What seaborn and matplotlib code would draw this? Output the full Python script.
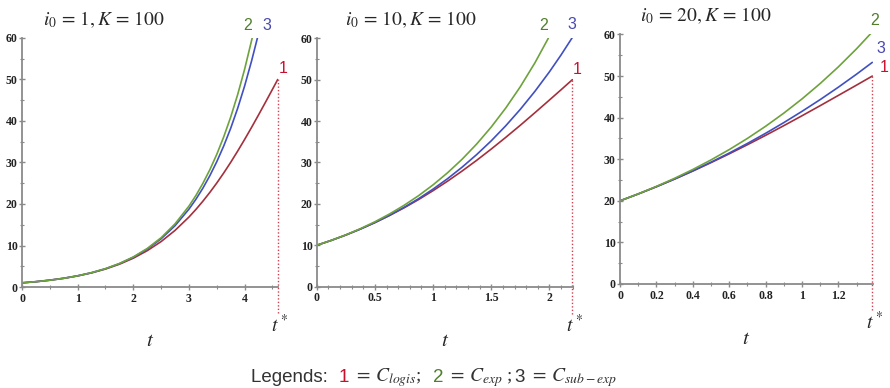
import numpy as np
import pandas as pd
import matplotlib
matplotlib.use("Agg")
import matplotlib.pyplot as plt
import seaborn as sns
from matplotlib.ticker import MultipleLocator, FuncFormatter
from matplotlib.offsetbox import TextArea, HPacker, AnchoredOffsetbox

# ---------------- data ----------------
i0_values = [1, 10, 20]
K_value = 100
t_star = [4.595, 2.197, 1.386]
x_max = [4.6, 2.2, 1.39]

# panel 1 : i0 = 1
p1_t_logis = [0, 0.25, 0.5, 0.75, 1, 1.25, 1.5, 1.75, 2, 2.25, 2.5, 2.75, 3, 3.125, 3.25, 3.375,
              3.5, 3.625, 3.75, 3.875, 4, 4.125, 4.25, 4.375, 4.5, 4.595]
p1_logis = [1.00, 1.28, 1.64, 2.09, 2.67, 3.40, 4.33, 5.49, 6.94, 8.75, 10.95, 13.64, 16.86, 18.69,
            20.67, 22.79, 25.06, 27.48, 30.04, 32.74, 35.55, 38.46, 41.46, 44.52, 47.62, 50.00]
p1_t_exp = [0, 0.25, 0.5, 0.75, 1, 1.25, 1.5, 1.75, 2, 2.25, 2.5, 2.75, 3, 3.125, 3.25, 3.375,
            3.5, 3.625, 3.75, 3.875, 4, 4.136]
p1_exp = [1.00, 1.28, 1.64, 2.10, 2.69, 3.45, 4.42, 5.66, 7.24, 9.28, 11.88, 15.22, 19.49, 22.06,
          24.97, 28.25, 31.97, 36.19, 40.95, 46.36, 52.46, 60.00]
p1_t_sub = [0, 0.25, 0.5, 0.75, 1, 1.25, 1.5, 1.75, 2, 2.25, 2.5, 2.75, 3, 3.125, 3.25, 3.375,
            3.5, 3.625, 3.75, 3.875, 4, 4.125, 4.23]
p1_sub = [1.00, 1.28, 1.65, 2.11, 2.70, 3.45, 4.40, 5.62, 7.17, 9.13, 11.62, 14.77, 18.76, 21.14,
          23.81, 26.82, 30.20, 33.99, 38.25, 43.05, 48.43, 54.46, 60.00]

# panel 2 : i0 = 10
p2_t_logis = [0, 0.125, 0.25, 0.375, 0.5, 0.625, 0.75, 0.875, 1, 1.125, 1.25, 1.375, 1.5, 1.625,
              1.75, 1.875, 2, 2.1, 2.197]
p2_logis = [10.00, 11.18, 12.48, 13.92, 15.48, 17.19, 19.04, 21.04, 23.20, 25.50, 27.95, 30.53,
            33.25, 36.08, 39.00, 42.02, 45.09, 47.57, 50.00]
p2_t_exp = [0, 0.125, 0.25, 0.375, 0.5, 0.625, 0.75, 0.875, 1, 1.125, 1.25, 1.375, 1.5, 1.625,
            1.75, 1.875, 1.99]
p2_exp = [10.00, 11.19, 12.52, 14.01, 15.68, 17.55, 19.64, 21.98, 24.60, 27.53, 30.80, 34.47,
          38.57, 43.17, 48.31, 54.06, 60.00]
p2_t_sub = [0, 0.125, 0.25, 0.375, 0.5, 0.625, 0.75, 0.875, 1, 1.125, 1.25, 1.375, 1.5, 1.625,
            1.75, 1.875, 2, 2.1, 2.197]
p2_sub = [10.00, 11.18, 12.48, 13.91, 15.49, 17.23, 19.15, 21.25, 23.57, 26.10, 28.88, 31.92,
          35.24, 38.88, 42.85, 47.18, 51.90, 55.98, 60.20]

# panel 3 : i0 = 20
p3_t = [0, 0.1, 0.2, 0.3, 0.4, 0.5, 0.6, 0.7, 0.8, 0.9, 1.0, 1.1, 1.2, 1.3, 1.386]
p3_logis = [20.00, 21.65, 23.39, 25.23, 27.16, 29.19, 31.30, 33.49, 35.75, 38.08, 40.46, 42.89,
            45.36, 47.84, 50.00]
p3_exp = [20.00, 21.67, 23.47, 25.42, 27.54, 29.84, 32.32, 35.01, 37.93, 41.09, 44.51, 48.22,
          52.23, 56.58, 60.62]
p3_sub = [20.00, 21.65, 23.40, 25.26, 27.22, 29.30, 31.49, 33.80, 36.24, 38.81, 41.52, 44.35,
          47.34, 50.47, 53.29]

x_major = [1, 0.5, 0.2]
x_minor = [0.5, 0.1, 0.1]

panels = [
    dict(logis=(p1_t_logis, p1_logis), exp=(p1_t_exp, p1_exp), sub=(p1_t_sub, p1_sub)),
    dict(logis=(p2_t_logis, p2_logis), exp=(p2_t_exp, p2_exp), sub=(p2_t_sub, p2_sub)),
    dict(logis=(p3_t, p3_logis), exp=(p3_t, p3_exp), sub=(p3_t, p3_sub)),
]

# ---------------- styling ----------------
sns.set_theme(style="white")
plt.rcParams["font.family"] = ["Liberation Serif", "DejaVu Serif"]
plt.rcParams["mathtext.fontset"] = "stix"

line_colors = {"logis": "#a3303c", "exp": "#6ea23c", "sub": "#4050c0"}
label_colors = {"logis": "#c8102e", "exp": "#4f7f2a", "sub": "#4848b0"}
label_text = {"logis": "1", "exp": "2", "sub": "3"}

# label offsets in pixels (dx, dy up) per panel
label_offsets = [
    {"exp": (-5, 5), "sub": (9, 5), "logis": (5, 3)},
    {"exp": (-5, 5), "sub": (0, 5), "logis": (5, 3)},
    {"exp": (2, 4), "sub": (9, 6), "logis": (12, 1)},
]

fig = plt.figure(figsize=(8.9, 3.88), dpi=100)
positions = [
    [22 / 890, 101 / 388, 256 / 890, 249 / 388],
    [316.7 / 890, 101.3 / 388, 256 / 890, 248.4 / 388],
    [620 / 890, 104 / 388, 253 / 890, 249.5 / 388],
]
title_x = [0.082, 0.11, 0.078]

axes = []
for k, pdata in enumerate(panels):
    ax = fig.add_axes(positions[k])
    axes.append(ax)
    rows = []
    for model in ["logis", "sub", "exp"]:
        tt, cc = pdata[model]
        for a, b in zip(tt, cc):
            rows.append({"t": a, "C": b, "model": model})
    df = pd.DataFrame(rows)
    sns.lineplot(data=df, x="t", y="C", hue="model", palette=line_colors,
                 hue_order=["logis", "sub", "exp"], estimator=None, sort=False,
                 legend=False, linewidth=1.2, ax=ax)

    ax.set_xlim(0, x_max[k])
    ax.set_ylim(0, 60)
    ax.set_xlabel("")
    ax.set_ylabel("")
    for s in ["top", "right"]:
        ax.spines[s].set_visible(False)
    for s in ["left", "bottom"]:
        ax.spines[s].set_color("#8a8a8a")
        ax.spines[s].set_linewidth(1.3)
    ax.set_facecolor("white")
    ax.yaxis.set_major_locator(MultipleLocator(10))
    ax.yaxis.set_minor_locator(MultipleLocator(5))
    ax.xaxis.set_major_locator(MultipleLocator(x_major[k]))
    ax.xaxis.set_minor_locator(MultipleLocator(x_minor[k]))
    ax.xaxis.set_major_formatter(FuncFormatter(lambda v, p: "%g" % round(v, 3)))
    ax.tick_params(axis="both", which="major", direction="inout", length=4, width=1,
                   color="#8a8a8a", labelsize=8.5, pad=1, labelcolor="#222222")
    ax.tick_params(axis="both", which="minor", direction="inout", length=2.5, width=0.8,
                   color="#8a8a8a")
    ax.tick_params(axis="x", which="major", pad=2)
    ax.tick_params(left=True, bottom=True, which="both")
    for lab in ax.get_xticklabels() + ax.get_yticklabels():
        lab.set_fontweight("bold")

    # dotted t* marker
    ts = t_star[k]
    ax.plot([ts, ts], [50, -6.8], linestyle=(0, (1, 1.5)), color="#d04050",
            linewidth=1.0, clip_on=False)
    ax.annotate(r"$t^*$", xy=(ts, 0), xytext=(2 * 0.72, -38 * 0.72),
                textcoords="offset points", ha="center", va="center",
                fontsize=14, annotation_clip=False)

    # curve labels
    for model in ["exp", "sub", "logis"]:
        tt, cc = pdata[model]
        dx, dy = label_offsets[k][model]
        ax.annotate(label_text[model], xy=(tt[-1], cc[-1]),
                    xytext=(dx * 0.72, dy * 0.72), textcoords="offset points",
                    ha="center", va="bottom", fontsize=11.5,
                    color=label_colors[model], family="Liberation Sans",
                    annotation_clip=False)

    # title
    ax.text(title_x[k], 1.075, r"$i_0\,=\,%d, K\,=\,%d$" % (i0_values[k], K_value),
            transform=ax.transAxes, ha="left", va="center", fontsize=14)
    # x label
    ax.text(0.5, -55 / 249, r"$t$", transform=ax.transAxes, ha="center",
            va="center", fontsize=15)

# ---------------- bottom legend line ----------------
fs = 13.5
sans = dict(family="Liberation Sans", size=fs, color="#333333")
parts = [
    TextArea("Legends:  ", textprops=sans),
    TextArea("1", textprops=dict(family="Liberation Sans", size=fs, color="#c8102e")),
    TextArea(r" $=\, C_{logis}$;   ", textprops=dict(size=fs + 0.5, color="#333333")),
    TextArea("2", textprops=dict(family="Liberation Sans", size=fs, color="#4f7f2a")),
    TextArea(r" $=\, C_{exp}$ ; ", textprops=dict(size=fs + 0.5, color="#333333")),
    TextArea("3", textprops=dict(family="Liberation Sans", size=fs, color="#333333")),
    TextArea(r" $=\, C_{sub-exp}$", textprops=dict(size=fs + 0.5, color="#333333")),
]
box = HPacker(children=parts, align="baseline", pad=0, sep=0)
anch = AnchoredOffsetbox(loc="center", child=box, pad=0, frameon=False,
                         bbox_to_anchor=(434 / 890, 10 / 388),
                         bbox_transform=fig.transFigure, borderpad=0)
axes[1].add_artist(anch)

fig.savefig("out.png", dpi=100, facecolor="white")
